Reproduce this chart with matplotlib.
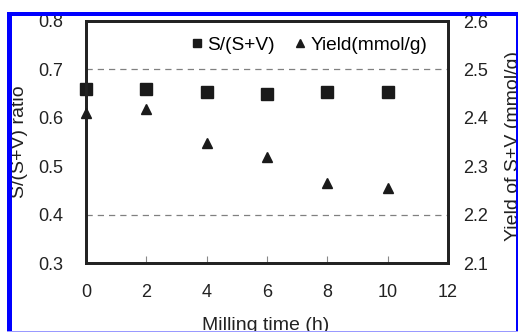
import matplotlib
matplotlib.use("Agg")
import matplotlib.pyplot as plt
from matplotlib.patches import Rectangle
from matplotlib.lines import Line2D

plt.rcParams['font.family'] = ['Liberation Sans', 'DejaVu Sans']

milling_time = [0, 2, 4, 6, 8, 10]
ratio = [0.660, 0.660, 0.654, 0.649, 0.653, 0.653]
yield_sv = [2.410, 2.418, 2.348, 2.319, 2.265, 2.254]
x_ticks = [0, 2, 4, 6, 8, 10, 12]
left_ticks = [0.3, 0.4, 0.5, 0.6, 0.7, 0.8]
right_ticks = [2.1, 2.2, 2.3, 2.4, 2.5, 2.6]
grid_levels = [0.4, 0.7]

W, H = 518, 332
fig = plt.figure(figsize=(W / 100, H / 100), dpi=100)
ax = fig.add_axes([86 / W, (H - 263) / H, (448 - 86) / W, (263 - 21) / H])
ax2 = ax.twinx()

fs = 13
lfs = 14
for lvl in grid_levels:
    ax.axhline(lvl, color='#808080', lw=0.9, ls=(0, (5, 4)), zorder=1)

h1, = ax.plot(milling_time, ratio, ls='none', marker='s', ms=8, color='#1a1a1a',
              label='S/(S+V)', clip_on=False, zorder=5)
h2, = ax2.plot(milling_time, yield_sv, ls='none', marker='^', ms=6.5, color='#1a1a1a',
               label='Yield(mmol/g)', clip_on=False, zorder=5)

ax.set_xlim(0, 12)
ax.set_ylim(0.3, 0.8)
ax2.set_ylim(2.1, 2.6)
ax.set_xticks(x_ticks)
ax.set_xticklabels([str(t) for t in x_ticks], fontsize=fs)
ax.set_yticks(left_ticks)
ax.set_yticklabels([f"{t:.1f}" for t in left_ticks], fontsize=fs)
ax2.set_yticks(right_ticks)
ax2.set_yticklabels([f"{t:.1f}" for t in right_ticks], fontsize=fs)

ax.tick_params(axis='x', direction='in', length=5, width=0.8, color='#888888', pad=15, colors='#222222')
ax.tick_params(axis='y', length=0, pad=16.5, colors='#222222')
ax2.tick_params(axis='y', length=0, pad=11, colors='#222222')
for a in (ax, ax2):
    for s in a.spines.values():
        s.set_linewidth(2)
        s.set_color('#222222')

lh1 = Line2D([], [], ls='none', marker='s', ms=6, color='#1a1a1a', label='S/(S+V)')
lh2 = Line2D([], [], ls='none', marker='^', ms=6, color='#1a1a1a', label='Yield(mmol/g)')
leg = ax.legend(handles=[lh1, lh2], loc='center left', bbox_to_anchor=((191 - 86) / 362, (263 - 45) / 242),
                ncol=2, frameon=False, fontsize=13.8, handlelength=0.6, handletextpad=0.25,
                columnspacing=1.0, borderpad=0, borderaxespad=0)

fig.text(20 / W, (H - 142) / H, 'S/(S+V) ratio', rotation=90, ha='center', va='center',
         fontsize=lfs, color='#222222')
fig.text(514 / W, (H - 146) / H, 'Yield of S+V (mmol/g)', rotation=90, ha='center', va='center',
         fontsize=lfs, color='#222222')
fig.text(266 / W, (H - 330) / H, 'Milling time (h)', ha='center', va='baseline',
         fontsize=lfs, color='#222222')

def px_rect(x0, y0, x1, y1, color):
    r = Rectangle((x0 / W, (H - y1) / H), (x1 - x0) / W, (y1 - y0) / H,
                  transform=fig.transFigure, facecolor=color, edgecolor='none', zorder=20)
    fig.add_artist(r)

# white margins outside the frame
px_rect(0, 0, W, 11.5, 'white')
px_rect(0, 0, 7, H, 'white')
# blue frame
px_rect(7, 11.5, W, 16, '#0000ff')
px_rect(7, 11.5, 12, H, '#0000ff')
px_rect(515.5, 11.5, 517.5, H, '#0000ff')
px_rect(7, 331, W, H, '#9999ff')

fig.savefig('out.png', dpi=100)
